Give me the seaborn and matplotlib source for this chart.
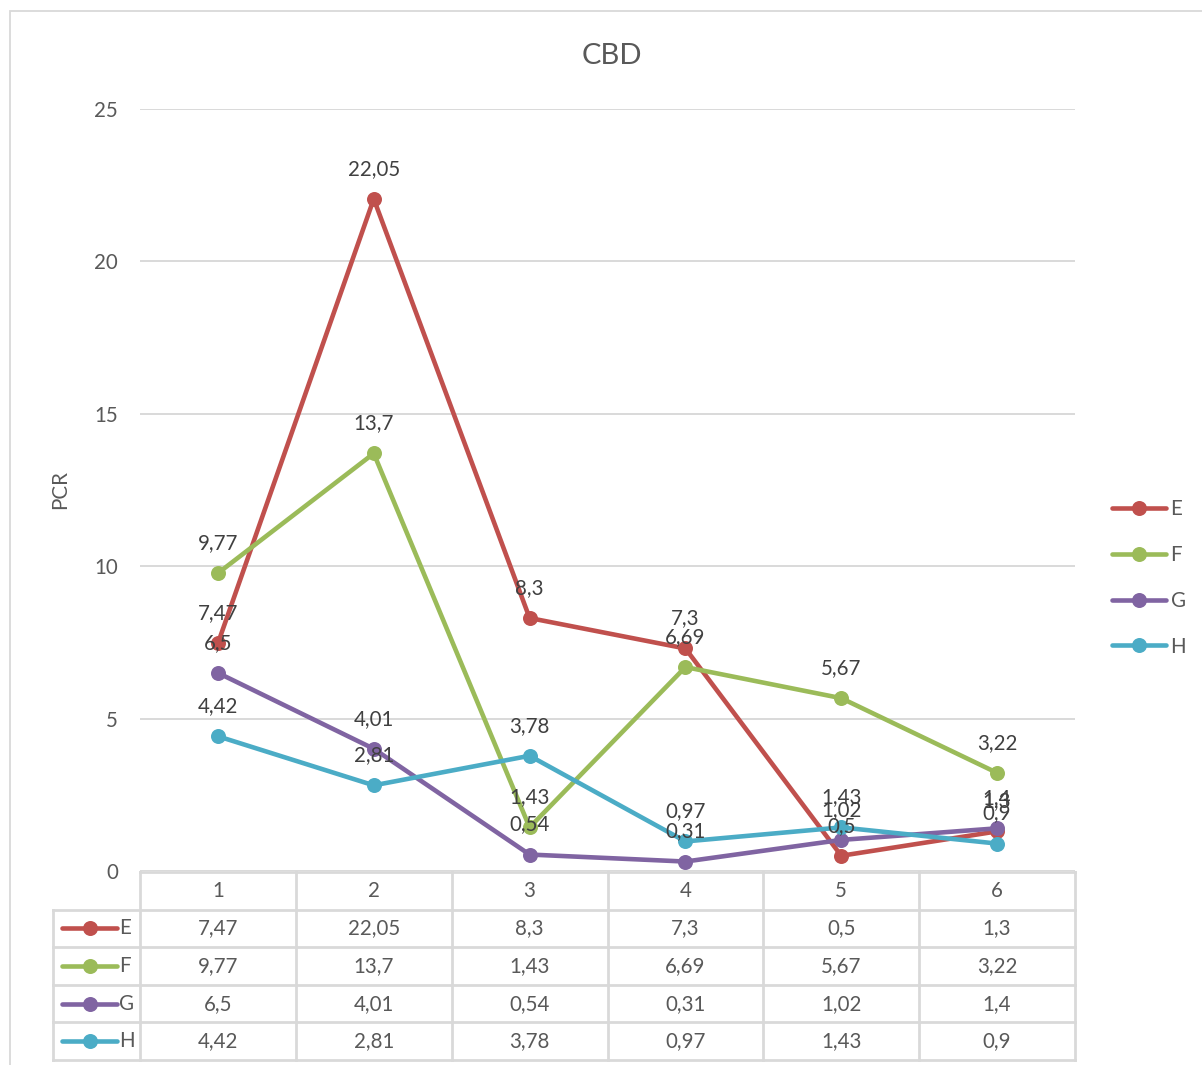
import numpy as np
import pandas as pd
import seaborn as sns
import matplotlib
matplotlib.use("Agg")
import matplotlib.pyplot as plt
from matplotlib.lines import Line2D
from matplotlib.patches import Rectangle

# ---- data ----
samples = [1, 2, 3, 4, 5, 6]
series_names = ["E", "F", "G", "H"]
E = [7.47, 22.05, 8.3, 7.3, 0.5, 1.3]
F = [9.77, 13.7, 1.43, 6.69, 5.67, 3.22]
G = [6.5, 4.01, 0.54, 0.31, 1.02, 1.4]
H = [4.42, 2.81, 3.78, 0.97, 1.43, 0.9]
y_ticks = [0, 5, 10, 15, 20, 25]
title = "CBD"
y_label = "PCR"

colors = {"E": "#C0504D", "F": "#9BBB59", "G": "#8064A2", "H": "#4BACC6"}
text_color = "#595959"
grid_color = "#D9D9D9"

values = {"E": E, "F": F, "G": G, "H": H}
df = pd.DataFrame(
    [(s, name, v) for name in series_names for s, v in zip(samples, values[name])],
    columns=["sample", "series", "PCR"],
)

def fmt(v):
    return ("%g" % v).replace(".", ",")

sns.set_theme(style="white")
plt.rcParams["font.family"] = ["Lato", "DejaVu Sans"]

FS = 14.8
LW = 3.3
MS = 10.8

W, H_px = 1202, 1065
dpi = 100
fig = plt.figure(figsize=(W / dpi, H_px / dpi), dpi=dpi)

def fx(px):
    return px / W

def fy(py):
    return 1 - py / H_px

# main plot area
left, right, top, bottom = 140, 1075, 109, 871
ax = fig.add_axes([fx(left), fy(bottom), fx(right - left), fy(top) - fy(bottom)])

sns.lineplot(
    data=df, x="sample", y="PCR", hue="series", palette=colors,
    marker="o", markersize=MS, markeredgewidth=0, linewidth=LW,
    legend=False, ax=ax, zorder=3,
)

ax.set_xlim(0.5, 6.5)
ax.set_ylim(0, 25)
ax.set_yticks(y_ticks)
ax.set_yticklabels([str(t) for t in y_ticks], fontsize=FS, color=text_color)
ax.set_xticks([])
ax.set_xlabel("")
ax.set_ylabel("")
ax.tick_params(axis="y", length=0, pad=16)
for sp in ax.spines.values():
    sp.set_visible(False)
ax.yaxis.grid(True, color=grid_color, linewidth=1.4)
ax.set_axisbelow(True)
ax.patch.set_alpha(0)

# value labels above each point
for name in series_names:
    for s, v in zip(samples, values[name]):
        ax.annotate(fmt(v), (s, v), xytext=(0, 30), textcoords="offset pixels",
                    ha="center", va="center", fontsize=FS, color="#404040",
                    zorder=5)

# title and axis label
fig.text(fx(612), fy(56), title, ha="center", va="center", fontsize=21, color=text_color)
fig.text(fx(60), fy(490), y_label, ha="center", va="center", rotation=90,
         fontsize=FS, color=text_color)

# legend on the right
handles = [Line2D([0], [0], color=colors[n], lw=LW, marker="o", markersize=MS,
                  markeredgewidth=0, solid_capstyle="round") for n in series_names]
leg = fig.legend(handles, series_names, loc="center left",
                 bbox_to_anchor=(fx(1112), fy(578)), frameon=False,
                 fontsize=FS, handlelength=2.65, handletextpad=0.2,
                 labelspacing=1.25, borderaxespad=0, borderpad=0)
for t in leg.get_texts():
    t.set_color(text_color)

# data table under the plot
tleft, ttop, tbottom = 53, 872, 1060
unit = (right - left) / 6.0
x0 = 0.5 - (left - tleft) / unit
tab = fig.add_axes([fx(tleft), fy(tbottom), fx(right - tleft), fy(ttop) - fy(tbottom)])
tab.set_xlim(x0, 6.5)
tab.set_ylim(5, 0)
tab.axis("off")

line_kw = dict(color=grid_color, lw=2.0, solid_capstyle="projecting", clip_on=False)
# horizontal rules
tab.plot([0.5, 6.5], [0, 0], **line_kw)
for r in range(1, 6):
    tab.plot([x0, 6.5], [r, r], **line_kw)
# vertical rules
for c in range(7):
    tab.plot([0.5 + c, 0.5 + c], [0, 5], **line_kw)
tab.plot([x0, x0], [1, 5], **line_kw)

# header row
for s in samples:
    tab.text(s, 0.5, str(s), ha="center", va="center", fontsize=FS, color=text_color)

# series rows with legend keys
for i, name in enumerate(series_names):
    row_y = i + 1.5
    kx0 = x0 + 9 / unit
    kx1 = x0 + 64 / unit
    tab.plot([kx0, kx1], [row_y, row_y], color=colors[name], lw=LW,
             solid_capstyle="round", clip_on=False)
    tab.plot([(kx0 + kx1) / 2], [row_y], marker="o", markersize=MS,
             color=colors[name], markeredgewidth=0, clip_on=False)
    tab.text(x0 + 66 / unit, row_y, name, ha="left", va="center",
             fontsize=FS, color=text_color)
    for s, v in zip(samples, values[name]):
        tab.text(s, row_y, fmt(v), ha="center", va="center", fontsize=FS,
                 color=text_color)

# chart frame
fig.patches.append(Rectangle((fx(10), fy(1080)), fx(1210) - fx(10), fy(11) - fy(1080),
                             transform=fig.transFigure, fill=False,
                             edgecolor=grid_color, lw=1.3))

fig.savefig("out.png", dpi=dpi, facecolor="white")
